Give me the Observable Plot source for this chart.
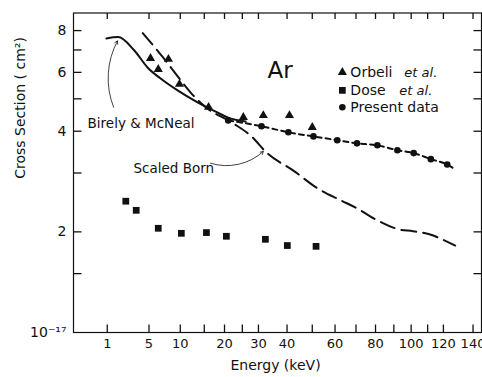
<!DOCTYPE html>
<html><head><meta charset="utf-8">
<script src="https://cdn.jsdelivr.net/npm/d3@7"></script>
<script src="https://cdn.jsdelivr.net/npm/@observablehq/plot@0.6"></script>
<style>body{margin:0;background:#fff;} svg{font-family:"DejaVu Sans";}</style>
</head><body><div id="chart"></div>
<script>
// Tick values
const xTicksLabeled = [1,5,10,20,30,40,60,80,100,120,140];
const xTicksAll = [1,5,10,15,20,25,30,40,50,60,70,80,90,100,110,120,140];
const yTicksLabeled = [1,2,4,6,8];
const yTicksAll = [1.5,2,3,4,5,6,7,8];

// Birely & McNeal (solid curve)
const birelyE = [0.95, 1.75, 3.2, 4.9, 6.6, 9.5, 13.5, 18, 21.5, 26];
const birelyS = [7.58, 7.65, 7.0, 6.17, 5.76, 5.3, 4.88, 4.56, 4.37, 4.28];
// Scaled Born (long dashes)
const bornE = [4.2, 7.0, 9.1, 12.0, 14.8, 22.4, 27.4, 32.9, 42.4, 52.2, 62.4, 70.6, 80, 93.7, 101, 113.5, 118, 127.8];
const bornS = [7.86, 6.66, 5.96, 5.23, 4.78, 4.22, 3.89, 3.44, 3.05, 2.70, 2.49, 2.35, 2.18, 2.03, 2.01, 1.95, 1.91, 1.82];
// Orbeli et al. (triangles)
const orbeliE = [5.2, 6.3, 7.9, 9.85, 16, 25.3, 31.6, 40.9, 50];
const orbeliS = [6.61, 6.13, 6.57, 5.53, 4.72, 4.40, 4.46, 4.46, 4.11];
// Dose et al. (squares)
const doseE = [2.4, 3.45, 6.3, 10.2, 15.5, 20.5, 32.3, 40.1, 51.6];
const doseS = [2.47, 2.32, 2.05, 1.98, 1.99, 1.94, 1.90, 1.82, 1.81];
// Present data (circles + short dashes)
const presentE = [21, 31, 40.5, 50.5, 61, 70.5, 81, 92, 101.5, 112, 122.5];
const presentS = [4.31, 4.14, 3.97, 3.86, 3.76, 3.68, 3.63, 3.51, 3.44, 3.30, 3.18];
const presentLineEndE = 126.6, presentLineEndS = 3.10;

const zipXY = (xs, ys) => xs.map((x, i) => ({x, y: ys[i]}));
const birely = zipXY(birelyE, birelyS);
const born = zipXY(bornE, bornS);
const orbeli = zipXY(orbeliE, orbeliS);
const dose = zipXY(doseE, doseS);
const present = zipXY(presentE, presentS);
const presentLine = [...present, {x: presentLineEndE, y: presentLineEndS}];

const legendNames = ["Orbeli", "Dose", "Present data"];
const legendItalic = ["et al.", "et al.", ""];
const legendSymbols = ["triangle", "square", "circle"];
const legendY = [6.0, 5.3, 4.72];
const legendX = 63.4;

const ink = "#111";
const W = 482, H = 377, mL = 73, mR = 1, mT = 12.5, mB = 45;
const fw = W - mL - mR, fh = H - mT - mB;
const xDomain = [0, 146], yDomain = [1, 9.03];
const pxPerSqrt = fw / (Math.sqrt(xDomain[1]) - Math.sqrt(xDomain[0]));
const pxPerDecade = fh / Math.log10(yDomain[1] / yDomain[0]);
const yAtPx = (base, px) => base * Math.pow(10, px / pxPerDecade);
const xAtPx = (base, px) => Math.pow(Math.sqrt(base) + px / pxPerSqrt, 2);

const tickBottom = xTicksAll.map(x => ({x, y1: yDomain[0], y2: yAtPx(yDomain[0], 8)}));
const tickTop = xTicksAll.map(x => ({x, y1: yDomain[1], y2: yAtPx(yDomain[1], -6)}));
const tickLeft = yTicksAll.map(y => ({y, x1: xDomain[0], x2: xAtPx(xDomain[0], 8)}));
const tickRight = yTicksAll.map(y => ({y, x1: xDomain[1], x2: xAtPx(xDomain[1], -8)}));

const legendMarks = legendNames.flatMap((name, i) => [
  Plot.dot([legendY[i]], {x: () => legendX, y: d => d, symbol: legendSymbols[i], r: [3.4, 3.8, 3.3][i], fill: ink}),
  Plot.text([name], {x: () => legendX, y: () => legendY[i], dx: 8, textAnchor: "start", fontSize: 14, fill: ink}),
  Plot.text([legendItalic[i]], {x: () => legendX, y: () => legendY[i], dx: [62, 57, 0][i], textAnchor: "start", fontSize: 13, fontStyle: "italic", fill: ink})
]);

const chart = Plot.plot({
  width: W, height: H,
  marginLeft: mL, marginRight: mR, marginTop: mT, marginBottom: mB,
  style: {fontFamily: "DejaVu Sans", background: "white", color: ink},
  x: {type: "sqrt", domain: xDomain, label: null},
  y: {type: "log", domain: yDomain, label: null},
  marks: [
    Plot.frame({stroke: ink, strokeWidth: 1.2}),
    // inward ticks
    Plot.link(tickBottom, {x1: "x", x2: "x", y1: "y1", y2: "y2", stroke: ink, strokeWidth: 1.3}),
    Plot.link(tickTop, {x1: "x", x2: "x", y1: "y1", y2: "y2", stroke: ink, strokeWidth: 1.3}),
    Plot.link(tickLeft, {y1: "y", y2: "y", x1: "x1", x2: "x2", stroke: ink, strokeWidth: 1.3}),
    Plot.link(tickRight, {y1: "y", y2: "y", x1: "x1", x2: "x2", stroke: ink, strokeWidth: 1.3}),
    // tick labels
    Plot.axisX({anchor: "bottom", ticks: xTicksLabeled, tickSize: 0, tickPadding: 6, fontSize: 13, label: null, fill: ink}),
    Plot.axisY({anchor: "left", ticks: yTicksLabeled, tickSize: 0, tickPadding: 7, fontSize: 14, label: null, fill: ink,
      tickFormat: d => d === 1 ? "10⁻¹⁷" : String(d)}),
    Plot.text(["Cross Section ( cm²)"], {frameAnchor: "left", dx: -53, dy: 6, rotate: -90, fontSize: 14, fill: ink}),
    Plot.text(["Energy (keV)"], {frameAnchor: "bottom", dx: -2, dy: 37, fontSize: 14, fill: ink}),

    Plot.line(birely, {x: "x", y: "y", curve: "monotone-x", stroke: ink, strokeWidth: 2}),
    Plot.line(born, {x: "x", y: "y", curve: "monotone-x", stroke: ink, strokeWidth: 2, strokeDasharray: "15,7"}),
    Plot.line(presentLine, {x: "x", y: "y", curve: "monotone-x", stroke: ink, strokeWidth: 2, strokeDasharray: "5,4"}),
    Plot.dot(orbeli, {x: "x", y: "y", symbol: "triangle", r: 3.4, fill: ink}),
    Plot.dot(dose, {x: "x", y: "y", symbol: "square", r: 3.8, fill: ink}),
    Plot.dot(present, {x: "x", y: "y", symbol: "circle", r: 3.3, fill: ink}),

    // annotations
    Plot.text(["Ar"], {x: 33, y: 6.09, textAnchor: "start", fontSize: 23, fill: ink}),
    Plot.text(["Birely & McNeal"], {x: 0.174, y: 4.22, textAnchor: "start", fontSize: 13.5, fill: ink}),
    Plot.text(["Scaled Born"], {x: 3.16, y: 3.08, textAnchor: "start", fontSize: 13.5, fill: ink}),
    Plot.arrow([{x1: 1.41, y1: 4.72, x2: 1.70, y2: 7.45}], {x1: "x1", y1: "y1", x2: "x2", y2: "y2", bend: 25, headLength: 6, strokeWidth: 0.8, stroke: ink}),
    Plot.arrow([{x1: 16.45, y1: 3.21, x2: 31.6, y2: 3.48}], {x1: "x1", y1: "y1", x2: "x2", y2: "y2", bend: -30, headLength: 6, strokeWidth: 0.8, stroke: ink}),

    ...legendMarks
  ]
});
document.getElementById("chart").appendChild(chart);
</script>
</body></html>
